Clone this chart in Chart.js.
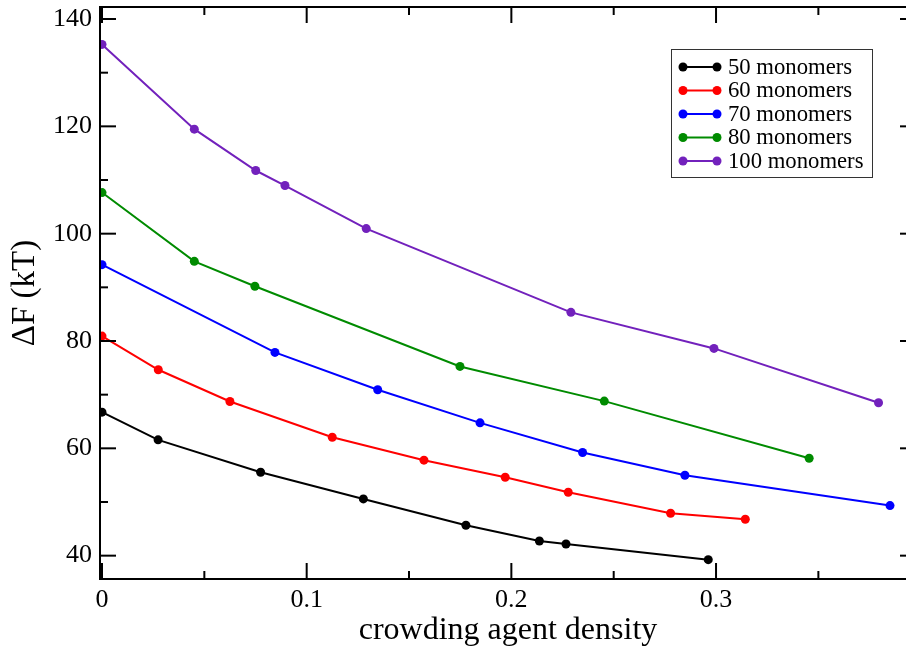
<!DOCTYPE html>
<html>
<head>
<meta charset="utf-8">
<script src="https://cdn.jsdelivr.net/npm/chart.js@4.4.1/dist/chart.umd.min.js"></script>
<style>
  html, body { margin: 0; padding: 0; background: #fff; overflow: hidden; }
  #wrap { width: 930px; height: 647px; }
</style>
</head>
<body>
<div id="wrap"><canvas id="c" width="930" height="647"></canvas></div>
<script>
// values
const seriesNames = ['50 monomers', '60 monomers', '70 monomers', '80 monomers', '100 monomers'];
const seriesColors = ['#000000', '#ff0000', '#0000ff', '#008b00', '#7221bc'];

const x50 = [0, 0.0274, 0.0775, 0.1277, 0.1778, 0.2137, 0.2267, 0.2962];
const y50 = [66.74, 61.58, 55.55, 50.57, 45.66, 42.73, 42.18, 39.25];

const x60 = [0, 0.0275, 0.0625, 0.1125, 0.1573, 0.197, 0.2278, 0.2778, 0.3143];
const y60 = [80.92, 74.64, 68.73, 62.07, 57.79, 54.62, 51.82, 47.9, 46.78];

const x70 = [0, 0.0845, 0.1347, 0.1847, 0.2348, 0.2848, 0.385];
const y70 = [94.23, 77.87, 70.91, 64.75, 59.22, 54.99, 49.33];

const x80 = [0, 0.0451, 0.0747, 0.1749, 0.2454, 0.3455];
const y80 = [107.66, 94.85, 90.2, 75.26, 68.8, 58.16];

const x100 = [0, 0.0451, 0.0751, 0.0894, 0.1291, 0.2291, 0.299, 0.3794];
const y100 = [135.27, 119.48, 111.77, 108.97, 100.95, 85.34, 78.62, 68.5];

const xTicks = [0, 0.1, 0.2, 0.3];
const yTicks = [40, 60, 80, 100, 120, 140];
const xMinorStep = 0.05;
const yMinorStep = 10;

const xs = [x50, x60, x70, x80, x100];
const ys = [y50, y60, y70, y80, y100];

const serif = '"Liberation Serif", "DejaVu Serif", serif';

const datasets = seriesNames.map((name, i) => ({
  label: name,
  data: xs[i].map((x, j) => ({ x: x, y: ys[i][j] })),
  borderColor: seriesColors[i],
  backgroundColor: seriesColors[i],
  borderWidth: 2,
  pointRadius: 4.5,
  pointBorderWidth: 0,
  pointHoverRadius: 4.5,
  tension: 0,
  fill: false
}));

// frame, inward major/minor ticks and the legend box
const framePlugin = {
  id: 'frame',
  afterDraw(chart) {
    const { ctx, chartArea: a, scales } = chart;
    const sx = scales.x, sy = scales.y;
    ctx.save();
    ctx.strokeStyle = '#000';
    ctx.lineWidth = 2;
    ctx.strokeRect(a.left, a.top, a.right - a.left, a.bottom - a.top);

    const tick = (x1, y1, x2, y2) => {
      ctx.beginPath(); ctx.moveTo(x1, y1); ctx.lineTo(x2, y2); ctx.stroke();
    };
    const major = 16, minor = 8;
    for (let v = 0; v <= sx.max + 1e-9; v += xMinorStep) {
      const px = sx.getPixelForValue(v);
      const isMajor = xTicks.some(t => Math.abs(t - v) < 1e-6);
      const len = isMajor ? major : minor;
      tick(px, a.bottom, px, a.bottom - len);
      tick(px, a.top, px, a.top + len);
    }
    for (let v = 40; v <= sy.max + 1e-9; v += yMinorStep) {
      const py = sy.getPixelForValue(v);
      const isMajor = yTicks.includes(v);
      const len = isMajor ? major : minor;
      tick(a.left, py, a.left + len, py);
      tick(a.right, py, a.right - len, py);
    }

    // legend
    const bx = 671, by = 49, bw = 201, bh = 128;
    ctx.fillStyle = '#fff';
    ctx.fillRect(bx, by, bw, bh);
    ctx.lineWidth = 1;
    ctx.strokeStyle = '#333';
    ctx.strokeRect(bx + 0.5, by + 0.5, bw, bh);
    ctx.font = '22.7px ' + serif;
    ctx.textBaseline = 'middle';
    chart.data.datasets.forEach((ds, i) => {
      const yy = 67 + i * 23.5;
      ctx.strokeStyle = ds.borderColor;
      ctx.fillStyle = ds.borderColor;
      ctx.lineWidth = 2;
      tick(683, yy, 717, yy);
      [683, 717].forEach(px => {
        ctx.beginPath(); ctx.arc(px, yy, 4.5, 0, Math.PI * 2); ctx.fill();
      });
      ctx.fillStyle = '#000';
      ctx.fillText(ds.label, 728, yy + 1);
    });
    ctx.restore();
  }
};

new Chart(document.getElementById('c'), {
  type: 'line',
  data: { datasets: datasets },
  plugins: [framePlugin],
  options: {
    responsive: false,
    animation: false,
    layout: { padding: { top: 7, right: 14, left: 0, bottom: 0 } },
    plugins: { legend: { display: false }, tooltip: { enabled: false } },
    scales: {
      x: {
        type: 'linear',
        min: -0.00098,
        max: 0.3977,
        afterFit: s => { s.height = 68; s.paddingLeft = 0; s.paddingRight = 0; },
        afterBuildTicks: s => { s.ticks = xTicks.map(v => ({ value: v })); },
        grid: { display: false, drawTicks: false },
        border: { display: false },
        ticks: {
          color: '#000',
          padding: 6,
          font: { family: serif, size: 26 },
          callback: v => String(v)
        },
        title: {
          display: true,
          text: 'crowding agent density',
          color: '#000',
          font: { family: serif, size: 32 },
          padding: { top: 0, bottom: -3 }
        }
      },
      y: {
        type: 'linear',
        min: 35.65,
        max: 142.24,
        afterFit: s => { s.width = 100; s.paddingTop = 0; s.paddingBottom = 0; },
        afterBuildTicks: s => { s.ticks = yTicks.map(v => ({ value: v })); },
        grid: { display: false, drawTicks: false },
        border: { display: false },
        ticks: {
          color: '#000',
          padding: 8,
          font: { family: serif, size: 26 },
          callback: v => String(v)
        },
        title: {
          display: true,
          text: 'ΔF (kT)',
          color: '#000',
          font: { family: serif, size: 33 },
          padding: { top: 6, bottom: 0 }
        }
      }
    }
  }
});
</script>
</body>
</html>
